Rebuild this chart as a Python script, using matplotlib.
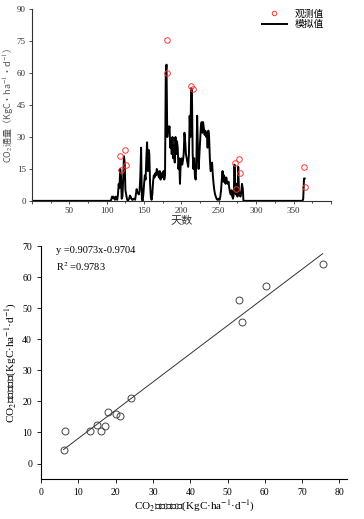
import numpy as np
import matplotlib
matplotlib.use("Agg")
import matplotlib.pyplot as plt
from matplotlib.ticker import MultipleLocator

plt.rcParams['font.family'] = ['Liberation Serif', 'Noto Sans CJK SC']
plt.rcParams['mathtext.fontset'] = 'stix'

# simulated daily flux, days 105-285 (zero elsewhere except the end-of-year spike)
SIM_START = 105
SIM_MID = [0, 0.5, 2, 1.5, 2, 1, 0.5, 2, 1, 0.5,
           3, 8, 6, 15, 12, 1, 2, 10, 21, 18,
           5, 3, 1, 0, 0.5, 1, 2.5, 2, 1, 0.5,
           0.5, 1, 1, 0.5, 3, 5.5, 4, 3.5, 3, 5,
           12, 25, 1, 0, 3, 8, 12, 10, 20, 27.5,
           14, 24, 22, 8, 2, 0.5, 3, 9, 12, 11,
           13, 12, 15, 14, 12, 11, 14, 10, 13, 12,
           11, 14, 10, 12, 60, 64, 30, 35, 33, 35,
           25, 28, 22, 30, 20, 26, 18, 30, 22, 28,
           25, 15, 20, 8, 18, 20, 17, 19, 22, 32,
           28, 22, 20, 18, 16, 22, 40, 30, 53, 52,
           22, 15, 20, 12, 10, 18, 40, 25, 15, 22,
           30, 35, 37, 32, 37, 34, 31, 33, 30, 32,
           25, 33, 30, 20, 14, 16, 18, 12, 8, 5,
           3, 2, 1, 0.5, 0.5, 1, 0.5, 2, 5, 10,
           14, 9, 12, 10, 8, 11, 9, 8, 9, 6,
           4, 3, 5, 2, 1, 3, 17, 5, 3, 8,
           2, 16, 5, 3, 2, 4, 8, 6, 0, 0,
           0]
SIM_END = {363: 1, 364: 10.5, 365: 10.5}

# observed values (day, flux)
OBS_DAY = [118, 119, 124.5, 126, 180, 180.3, 213, 215, 272, 272.7, 277.5, 279, 363.8, 365]
OBS_VAL = [21, 14.6, 24, 17, 60, 75.5, 53.8, 52.6, 17.8, 5.6, 19.8, 13, 16, 6.3]

# observed vs simulated pairs
SC_OBS = [6, 6.5, 13, 15, 16, 17, 18, 20, 21.2, 24.2, 53, 54, 60.3, 75.5]
SC_SIM = [4.5, 10.5, 10.5, 12.3, 10.5, 12, 16.5, 16, 15.2, 21, 52.5, 45.5, 57.2, 64.2]
SLOPE, INTERCEPT, R2 = 0.9073, -0.9704, 0.9783

CJK = ['Noto Sans CJK SC', 'DejaVu Sans']
MIX = ['Liberation Serif', 'Noto Sans CJK SC']

days = np.arange(1, 366)
sim = np.zeros(365)
sim[SIM_START - 1:SIM_START - 1 + len(SIM_MID)] = SIM_MID
for d, v in SIM_END.items():
    sim[d - 1] = v

fig = plt.figure(figsize=(3.64, 5.19), dpi=100)

# ---- top: time series
ax1 = fig.add_axes([0.088, 0.613, 0.821, 0.369])
ax1.plot(days, sim, color='black', lw=1.4, label='模拟值')
ax1.plot(OBS_DAY, OBS_VAL, 'o', ms=4, mfc='none', mec='#ff3333', mew=0.7, label='观测值')
ax1.set_xlim(0, 400)
ax1.set_ylim(0, 90)
ax1.set_xticks(range(0, 401, 50))
ax1.set_xticklabels([''] + [str(v) for v in range(50, 351, 50)] + [''])
ax1.xaxis.set_minor_locator(MultipleLocator(25))
ax1.set_yticks(range(0, 91, 15))
for s in ['top', 'right']:
    ax1.spines[s].set_visible(False)
ax1.spines['left'].set_color('#333333')
ax1.spines['bottom'].set_color('#333333')
ax1.tick_params(labelsize=6.5, colors='#333333', length=2.5, width=0.6, pad=2)
ax1.tick_params(which='minor', length=1.5, width=0.5)
ax1.set_xlabel('天数', fontsize=8, color='#333333', labelpad=0, family=CJK)
ax1.set_ylabel('CO$_2$通量（KgC·ha$^{-1}$·d$^{-1}$）', fontsize=6.5, color='#555555',
               labelpad=1, family=CJK)
h, l = ax1.get_legend_handles_labels()
ax1.legend(h[::-1], l[::-1], loc='upper right', bbox_to_anchor=(1.0, 1.04), frameon=False,
           handlelength=2.6, labelspacing=0.1, borderpad=0.2, markerscale=0.8,
           prop={'family': CJK, 'size': 7})

# ---- bottom: scatter
ax2 = fig.add_axes([0.113, 0.077, 0.840, 0.449])
ax2.plot(SC_OBS, SC_SIM, 'o', ms=5, mfc='none', mec='#444444', mew=0.7)
xl = np.array([min(SC_OBS), max(SC_OBS)])
ax2.plot(xl, SLOPE * xl + INTERCEPT, color='#333333', lw=0.7)
ax2.set_xlim(0, 82)
ax2.set_ylim(-5, 70)
ax2.set_xticks(range(0, 81, 10))
ax2.set_yticks(range(0, 71, 10))
for s in ['top', 'right']:
    ax2.spines[s].set_visible(False)
ax2.tick_params(labelsize=7, length=3, width=0.6)
ax2.text(4, 68.5, 'y =%.4fx%.4f' % (SLOPE, INTERCEPT), fontsize=7.5, va='center')
ax2.text(4, 63.5, 'R$^2$ =%.4f' % R2, fontsize=7.5, va='center')
ax2.set_xlabel('CO$_2$通量观测值(KgC·ha$^{-1}$·d$^{-1}$)', fontsize=8, labelpad=1, family=MIX)
ax2.set_ylabel('CO$_2$通量模拟值(KgC·ha$^{-1}$·d$^{-1}$)', fontsize=8, labelpad=2, family=MIX)

fig.savefig('out.png', dpi=100)
